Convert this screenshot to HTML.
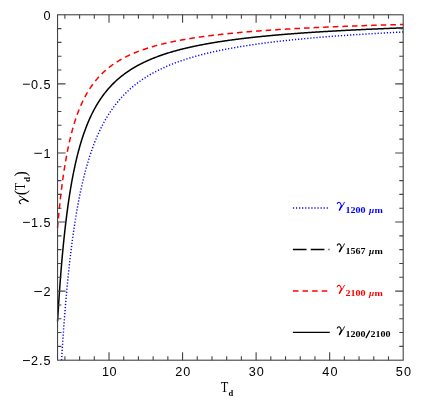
<!DOCTYPE html>
<html><head><meta charset="utf-8"><style>
html,body{margin:0;padding:0;background:#fff;}
svg{display:block;}
text{font-family:"Liberation Sans",sans-serif;}
.ser{font-family:"Liberation Serif",serif;}
.sub{font-family:"Liberation Serif",serif;font-weight:bold;font-size:9.2px;}
.mu{font-style:italic;font-size:8.6px;}
.sl{font-size:12px;font-weight:normal;}
</style></head><body>
<svg width="439" height="406" viewBox="0 0 439 406">
<defs>
<g id="gam" fill="none" stroke="currentColor" stroke-linecap="round" stroke-linejoin="round">
<path d="M0.8,1.9 C1.2,0.9 2.2,0.3 3.1,0.7 C4.2,1.3 4.6,2.9 5.0,4.3" stroke-width="1.05"/>
<path d="M7.9,0.6 C7.0,3.0 4.6,5.8 2.9,8.5" stroke-width="0.95"/>
<path d="M4.9,4.4 L3.0,8.3" stroke-width="1.45"/>
</g>
<g id="gamthin" fill="none" stroke="currentColor" stroke-linecap="round" stroke-linejoin="round">
<path d="M0.8,1.9 C1.2,0.9 2.2,0.3 3.1,0.7 C4.2,1.3 4.6,2.9 5.0,4.3" stroke-width="0.9"/>
<path d="M7.9,0.6 C7.0,3.0 4.6,5.8 2.9,8.5" stroke-width="0.8"/>
<path d="M4.9,4.4 L3.0,8.4" stroke-width="1.2"/>
</g>
</defs>
<rect width="439" height="406" fill="#fff"/>
<g style="filter:opacity(0.999)">
<g fill="none">
<path d="M61.56,360.20 L61.58,359.75 L61.95,353.85 L62.32,348.13 L62.69,342.58 L63.06,337.20 L63.42,331.97 L63.79,326.90 L64.16,321.97 L64.53,317.18 L64.89,312.52 L65.26,307.99 L65.63,303.59 L66.00,299.31 L66.37,295.14 L66.73,291.08 L67.10,287.13 L67.47,283.28 L67.84,279.52 L68.20,275.87 L68.57,272.30 L68.94,268.83 L69.31,265.44 L69.67,262.13 L70.04,258.90 L70.41,255.75 L70.78,252.67 L71.15,249.67 L71.51,246.73 L71.88,243.87 L72.25,241.06 L72.62,238.32 L72.98,235.65 L73.35,233.03 L73.72,230.46 L74.09,227.96 L74.46,225.51 L74.82,223.11 L75.19,220.76 L75.56,218.46 L75.93,216.20 L76.29,214.00 L76.66,211.83 L77.03,209.72 L77.40,207.64 L77.76,205.61 L78.13,203.61 L78.50,201.66 L78.87,199.74 L79.24,197.86 L79.60,196.01 L79.97,194.20 L80.34,192.43 L80.71,190.68 L81.07,188.97 L81.44,187.29 L81.81,185.64 L82.18,184.02 L82.55,182.43 L82.91,180.87 L83.28,179.33 L83.65,177.82 L84.02,176.34 L84.38,174.88 L84.75,173.45 L85.12,172.04 L85.49,170.66 L85.85,169.30 L86.22,167.96 L86.59,166.64 L86.96,165.34 L87.33,164.07 L87.69,162.82 L88.06,161.58 L88.43,160.37 L88.80,159.17 L89.16,157.99 L89.53,156.84 L89.90,155.69 L90.27,154.57 L90.64,153.46 L91.00,152.37 L91.37,151.30 L91.74,150.24 L92.11,149.20 L92.47,148.18 L92.84,147.16 L93.21,146.17 L93.58,145.18 L93.94,144.22 L94.31,143.26 L94.68,142.32 L95.05,141.39 L95.42,140.48 L95.78,139.57 L96.15,138.68 L96.52,137.81 L96.89,136.94 L97.25,136.09 L97.62,135.24 L97.99,134.41 L98.36,133.59 L98.73,132.78 L99.09,131.98 L99.46,131.19 L99.83,130.41 L100.20,129.65 L100.56,128.89 L100.93,128.14 L101.30,127.40 L101.67,126.67 L102.03,125.95 L102.40,125.23 L102.77,124.53 L103.14,123.84 L103.51,123.15 L103.87,122.47 L104.24,121.80 L104.61,121.14 L104.98,120.49 L105.34,119.84 L105.71,119.20 L106.08,118.57 L106.45,117.95 L106.81,117.33 L107.18,116.72 L107.55,116.12 L107.92,115.52 L108.29,114.94 L108.65,114.35 L109.02,113.78 L109.76,112.65 L110.49,111.54 L111.23,110.46 L111.96,109.40 L112.70,108.36 L113.43,107.35 L114.17,106.35 L114.90,105.38 L115.64,104.43 L116.38,103.50 L117.11,102.58 L117.85,101.69 L118.58,100.81 L119.32,99.95 L120.05,99.10 L120.79,98.27 L121.52,97.46 L122.26,96.66 L122.99,95.88 L123.73,95.11 L124.47,94.36 L125.20,93.62 L125.94,92.89 L126.67,92.18 L127.41,91.48 L128.14,90.79 L128.88,90.11 L129.61,89.45 L130.35,88.80 L131.08,88.15 L131.82,87.52 L132.56,86.90 L133.29,86.29 L134.03,85.69 L134.76,85.10 L135.50,84.52 L136.23,83.95 L136.97,83.39 L137.70,82.83 L138.44,82.29 L139.17,81.75 L139.91,81.22 L140.65,80.70 L141.38,80.19 L142.12,79.69 L142.85,79.19 L143.59,78.70 L144.32,78.22 L145.06,77.75 L145.79,77.28 L146.53,76.82 L147.26,76.36 L148.00,75.92 L148.74,75.48 L149.47,75.04 L150.21,74.61 L150.94,74.19 L151.68,73.77 L152.41,73.36 L153.15,72.95 L153.88,72.55 L154.62,72.16 L155.35,71.77 L156.09,71.39 L156.83,71.01 L157.56,70.63 L158.30,70.26 L159.03,69.90 L159.77,69.54 L160.50,69.18 L161.24,68.83 L161.97,68.49 L162.71,68.15 L163.44,67.81 L164.18,67.47 L164.92,67.15 L165.65,66.82 L166.39,66.50 L167.12,66.18 L167.86,65.87 L168.59,65.56 L169.33,65.25 L170.06,64.95 L170.80,64.65 L171.53,64.36 L172.27,64.06 L173.01,63.78 L173.74,63.49 L174.48,63.21 L175.21,62.93 L175.95,62.65 L176.68,62.38 L177.42,62.11 L178.15,61.85 L178.89,61.58 L179.62,61.32 L180.36,61.06 L181.10,60.81 L181.83,60.56 L182.57,60.31 L183.30,60.06 L184.04,59.82 L184.77,59.58 L185.51,59.34 L186.24,59.10 L186.98,58.87 L187.71,58.64 L188.45,58.41 L189.18,58.18 L189.92,57.96 L190.66,57.73 L191.39,57.51 L192.13,57.30 L192.86,57.08 L193.60,56.87 L194.33,56.66 L195.07,56.45 L195.80,56.24 L196.54,56.04 L197.27,55.83 L198.01,55.63 L198.75,55.43 L199.48,55.24 L200.22,55.04 L200.95,54.85 L201.69,54.66 L202.42,54.47 L203.16,54.28 L203.89,54.09 L204.63,53.91 L205.36,53.73 L206.10,53.54 L206.84,53.37 L207.57,53.19 L208.31,53.01 L209.04,52.84 L209.78,52.66 L210.51,52.49 L211.25,52.32 L211.98,52.15 L212.72,51.99 L213.45,51.82 L214.19,51.66 L214.93,51.50 L215.66,51.33 L216.40,51.18 L217.13,51.02 L217.87,50.86 L218.60,50.70 L219.34,50.55 L220.07,50.40 L220.81,50.25 L221.54,50.10 L222.28,49.95 L223.02,49.80 L223.75,49.65 L224.49,49.51 L225.22,49.36 L225.96,49.22 L226.69,49.08 L227.43,48.94 L228.16,48.80 L228.90,48.66 L229.63,48.52 L230.37,48.39 L231.11,48.25 L231.84,48.12 L232.58,47.98 L233.31,47.85 L234.05,47.72 L234.78,47.59 L235.52,47.46 L236.25,47.33 L236.99,47.21 L237.72,47.08 L238.46,46.96 L239.20,46.83 L239.93,46.71 L240.67,46.59 L241.40,46.47 L242.14,46.35 L242.87,46.23 L243.61,46.11 L244.34,45.99 L245.08,45.88 L245.81,45.76 L246.55,45.64 L247.29,45.53 L248.02,45.42 L248.76,45.30 L249.49,45.19 L250.23,45.08 L250.96,44.97 L251.70,44.86 L252.43,44.75 L253.17,44.65 L253.90,44.54 L254.64,44.43 L255.38,44.33 L256.11,44.22 L256.85,44.12 L257.58,44.02 L258.32,43.91 L259.05,43.81 L259.79,43.71 L260.52,43.61 L261.26,43.51 L261.99,43.41 L262.73,43.32 L263.47,43.22 L264.20,43.12 L264.94,43.02 L265.67,42.93 L266.41,42.83 L267.14,42.74 L267.88,42.65 L268.61,42.55 L269.35,42.46 L270.08,42.37 L270.82,42.28 L271.56,42.19 L272.29,42.10 L273.03,42.01 L273.76,41.92 L274.50,41.83 L275.23,41.74 L275.97,41.65 L276.70,41.57 L277.44,41.48 L278.17,41.40 L278.91,41.31 L279.64,41.23 L280.38,41.14 L281.12,41.06 L281.85,40.98 L282.59,40.89 L283.32,40.81 L284.06,40.73 L284.79,40.65 L285.53,40.57 L286.26,40.49 L287.00,40.41 L287.73,40.33 L288.47,40.25 L289.21,40.18 L289.94,40.10 L290.68,40.02 L291.41,39.95 L292.15,39.87 L292.88,39.79 L293.62,39.72 L294.35,39.64 L295.09,39.57 L295.82,39.50 L296.56,39.42 L297.30,39.35 L298.03,39.28 L298.77,39.21 L299.50,39.13 L300.24,39.06 L300.97,38.99 L301.71,38.92 L302.44,38.85 L303.18,38.78 L303.91,38.71 L304.65,38.64 L305.39,38.58 L306.12,38.51 L306.86,38.44 L307.59,38.37 L308.33,38.31 L309.06,38.24 L309.80,38.17 L310.53,38.11 L311.27,38.04 L312.00,37.98 L312.74,37.91 L313.48,37.85 L314.21,37.79 L314.95,37.72 L315.68,37.66 L316.42,37.60 L317.15,37.53 L317.89,37.47 L318.62,37.41 L319.36,37.35 L320.09,37.29 L320.83,37.23 L321.57,37.17 L322.30,37.11 L323.04,37.05 L323.77,36.99 L324.51,36.93 L325.24,36.87 L325.98,36.81 L326.71,36.75 L327.45,36.69 L328.18,36.64 L328.92,36.58 L329.66,36.52 L330.39,36.46 L331.13,36.41 L331.86,36.35 L332.60,36.30 L333.33,36.24 L334.07,36.18 L334.80,36.13 L335.54,36.07 L336.27,36.02 L337.01,35.97 L337.75,35.91 L338.48,35.86 L339.22,35.80 L339.95,35.75 L340.69,35.70 L341.42,35.65 L342.16,35.59 L342.89,35.54 L343.63,35.49 L344.36,35.44 L345.10,35.39 L345.84,35.34 L346.57,35.29 L347.31,35.23 L348.04,35.18 L348.78,35.13 L349.51,35.08 L350.25,35.04 L350.98,34.99 L351.72,34.94 L352.45,34.89 L353.19,34.84 L353.93,34.79 L354.66,34.74 L355.40,34.70 L356.13,34.65 L356.87,34.60 L357.60,34.55 L358.34,34.51 L359.07,34.46 L359.81,34.41 L360.54,34.37 L361.28,34.32 L362.01,34.27 L362.75,34.23 L363.49,34.18 L364.22,34.14 L364.96,34.09 L365.69,34.05 L366.43,34.00 L367.16,33.96 L367.90,33.91 L368.63,33.87 L369.37,33.83 L370.10,33.78 L370.84,33.74 L371.58,33.70 L372.31,33.65 L373.05,33.61 L373.78,33.57 L374.52,33.53 L375.25,33.48 L375.99,33.44 L376.72,33.40 L377.46,33.36 L378.19,33.32 L378.93,33.27 L379.67,33.23 L380.40,33.19 L381.14,33.15 L381.87,33.11 L382.61,33.07 L383.34,33.03 L384.08,32.99 L384.81,32.95 L385.55,32.91 L386.28,32.87 L387.02,32.83 L387.76,32.79 L388.49,32.75 L389.23,32.72 L389.96,32.68 L390.70,32.64 L391.43,32.60 L392.17,32.56 L392.90,32.52 L393.64,32.49 L394.37,32.45 L395.11,32.41 L395.85,32.37 L396.58,32.34 L397.32,32.30 L398.05,32.26 L398.79,32.22 L399.52,32.19 L400.26,32.15 L400.99,32.12 L401.73,32.08 L402.46,32.04 L403.20,32.01" stroke="#0000ff" stroke-width="1.45" stroke-dasharray="1.2 1.87"/>
<path d="M57.54,227.96 L57.91,223.70 L58.28,219.60 L58.64,215.65 L59.01,211.83 L59.38,208.16 L59.75,204.60 L60.11,201.17 L60.48,197.86 L60.85,194.65 L61.22,191.55 L61.58,188.55 L61.95,185.64 L62.32,182.83 L62.69,180.10 L63.06,177.45 L63.42,174.88 L63.79,172.39 L64.16,169.97 L64.53,167.63 L64.89,165.34 L65.26,163.13 L65.63,160.97 L66.00,158.88 L66.37,156.84 L66.73,154.85 L67.10,152.92 L67.47,151.04 L67.84,149.20 L68.20,147.42 L68.57,145.67 L68.94,143.98 L69.31,142.32 L69.67,140.70 L70.04,139.13 L70.41,137.59 L70.78,136.09 L71.15,134.62 L71.51,133.18 L71.88,131.78 L72.25,130.41 L72.62,129.08 L72.98,127.77 L73.35,126.49 L73.72,125.23 L74.09,124.01 L74.46,122.81 L74.82,121.64 L75.19,120.49 L75.56,119.36 L75.93,118.26 L76.29,117.18 L76.66,116.12 L77.03,115.08 L77.40,114.07 L77.76,113.07 L78.13,112.09 L78.50,111.13 L78.87,110.19 L79.24,109.27 L79.60,108.36 L79.97,107.47 L80.34,106.60 L80.71,105.74 L81.07,104.90 L81.44,104.08 L81.81,103.27 L82.18,102.47 L82.55,101.69 L82.91,100.92 L83.28,100.16 L83.65,99.42 L84.02,98.68 L84.38,97.97 L84.75,97.26 L85.12,96.56 L85.49,95.88 L85.85,95.21 L86.22,94.55 L86.59,93.90 L86.96,93.25 L87.33,92.62 L87.69,92.00 L88.06,91.39 L88.43,90.79 L88.80,90.20 L89.16,89.61 L89.53,89.04 L89.90,88.47 L90.27,87.92 L90.64,87.37 L91.00,86.82 L91.37,86.29 L91.74,85.77 L92.11,85.25 L92.47,84.74 L92.84,84.23 L93.21,83.74 L93.58,83.25 L93.94,82.76 L94.31,82.29 L94.68,81.82 L95.05,81.36 L95.42,80.90 L95.78,80.45 L96.15,80.00 L96.52,79.56 L96.89,79.13 L97.25,78.70 L97.62,78.28 L97.99,77.87 L98.36,77.45 L98.73,77.05 L99.09,76.65 L99.46,76.25 L99.83,75.86 L100.20,75.48 L100.56,75.09 L100.93,74.72 L101.30,74.35 L101.67,73.98 L102.03,73.62 L102.40,73.26 L102.77,72.90 L103.14,72.55 L103.51,72.21 L103.87,71.87 L104.24,71.53 L104.61,71.20 L104.98,70.87 L105.34,70.54 L105.71,70.22 L106.08,69.90 L106.45,69.58 L106.81,69.27 L107.18,68.96 L107.55,68.66 L107.92,68.36 L108.29,68.06 L108.65,67.77 L109.02,67.47 L109.76,66.90 L110.49,66.34 L111.23,65.79 L111.96,65.25 L112.70,64.73 L113.43,64.21 L114.17,63.70 L114.90,63.21 L115.64,62.72 L116.38,62.25 L117.11,61.78 L117.85,61.32 L118.58,60.87 L119.32,60.43 L120.05,60.00 L120.79,59.58 L121.52,59.16 L122.26,58.75 L122.99,58.35 L123.73,57.96 L124.47,57.57 L125.20,57.19 L125.94,56.82 L126.67,56.45 L127.41,56.09 L128.14,55.73 L128.88,55.38 L129.61,55.04 L130.35,54.70 L131.08,54.37 L131.82,54.05 L132.56,53.73 L133.29,53.41 L134.03,53.10 L134.76,52.79 L135.50,52.49 L136.23,52.20 L136.97,51.90 L137.70,51.62 L138.44,51.33 L139.17,51.06 L139.91,50.78 L140.65,50.51 L141.38,50.25 L142.12,49.98 L142.85,49.73 L143.59,49.47 L144.32,49.22 L145.06,48.97 L145.79,48.73 L146.53,48.49 L147.26,48.25 L148.00,48.02 L148.74,47.79 L149.47,47.56 L150.21,47.33 L150.94,47.11 L151.68,46.90 L152.41,46.68 L153.15,46.47 L153.88,46.26 L154.62,46.05 L155.35,45.85 L156.09,45.64 L156.83,45.45 L157.56,45.25 L158.30,45.05 L159.03,44.86 L159.77,44.67 L160.50,44.49 L161.24,44.30 L161.97,44.12 L162.71,43.94 L163.44,43.76 L164.18,43.59 L164.92,43.41 L165.65,43.24 L166.39,43.07 L167.12,42.90 L167.86,42.74 L168.59,42.58 L169.33,42.41 L170.06,42.25 L170.80,42.10 L171.53,41.94 L172.27,41.79 L173.01,41.63 L173.74,41.48 L174.48,41.33 L175.21,41.19 L175.95,41.04 L176.68,40.89 L177.42,40.75 L178.15,40.61 L178.89,40.47 L179.62,40.33 L180.36,40.20 L181.10,40.06 L181.83,39.93 L182.57,39.79 L183.30,39.66 L184.04,39.53 L184.77,39.41 L185.51,39.28 L186.24,39.15 L186.98,39.03 L187.71,38.90 L188.45,38.78 L189.18,38.66 L189.92,38.54 L190.66,38.42 L191.39,38.31 L192.13,38.19 L192.86,38.08 L193.60,37.96 L194.33,37.85 L195.07,37.74 L195.80,37.63 L196.54,37.52 L197.27,37.41 L198.01,37.30 L198.75,37.20 L199.48,37.09 L200.22,36.99 L200.95,36.88 L201.69,36.78 L202.42,36.68 L203.16,36.58 L203.89,36.48 L204.63,36.38 L205.36,36.28 L206.10,36.18 L206.84,36.09 L207.57,35.99 L208.31,35.90 L209.04,35.80 L209.78,35.71 L210.51,35.62 L211.25,35.53 L211.98,35.44 L212.72,35.35 L213.45,35.26 L214.19,35.17 L214.93,35.08 L215.66,35.00 L216.40,34.91 L217.13,34.83 L217.87,34.74 L218.60,34.66 L219.34,34.58 L220.07,34.49 L220.81,34.41 L221.54,34.33 L222.28,34.25 L223.02,34.17 L223.75,34.09 L224.49,34.01 L225.22,33.94 L225.96,33.86 L226.69,33.78 L227.43,33.71 L228.16,33.63 L228.90,33.56 L229.63,33.48 L230.37,33.41 L231.11,33.34 L231.84,33.26 L232.58,33.19 L233.31,33.12 L234.05,33.05 L234.78,32.98 L235.52,32.91 L236.25,32.84 L236.99,32.77 L237.72,32.71 L238.46,32.64 L239.20,32.57 L239.93,32.50 L240.67,32.44 L241.40,32.37 L242.14,32.31 L242.87,32.24 L243.61,32.18 L244.34,32.12 L245.08,32.05 L245.81,31.99 L246.55,31.93 L247.29,31.87 L248.02,31.80 L248.76,31.74 L249.49,31.68 L250.23,31.62 L250.96,31.56 L251.70,31.50 L252.43,31.45 L253.17,31.39 L253.90,31.33 L254.64,31.27 L255.38,31.21 L256.11,31.16 L256.85,31.10 L257.58,31.04 L258.32,30.99 L259.05,30.93 L259.79,30.88 L260.52,30.82 L261.26,30.77 L261.99,30.72 L262.73,30.66 L263.47,30.61 L264.20,30.56 L264.94,30.51 L265.67,30.45 L266.41,30.40 L267.14,30.35 L267.88,30.30 L268.61,30.25 L269.35,30.20 L270.08,30.15 L270.82,30.10 L271.56,30.05 L272.29,30.00 L273.03,29.95 L273.76,29.90 L274.50,29.85 L275.23,29.81 L275.97,29.76 L276.70,29.71 L277.44,29.67 L278.17,29.62 L278.91,29.57 L279.64,29.53 L280.38,29.48 L281.12,29.44 L281.85,29.39 L282.59,29.35 L283.32,29.30 L284.06,29.26 L284.79,29.21 L285.53,29.17 L286.26,29.12 L287.00,29.08 L287.73,29.04 L288.47,29.00 L289.21,28.95 L289.94,28.91 L290.68,28.87 L291.41,28.83 L292.15,28.79 L292.88,28.74 L293.62,28.70 L294.35,28.66 L295.09,28.62 L295.82,28.58 L296.56,28.54 L297.30,28.50 L298.03,28.46 L298.77,28.42 L299.50,28.38 L300.24,28.34 L300.97,28.31 L301.71,28.27 L302.44,28.23 L303.18,28.19 L303.91,28.15 L304.65,28.12 L305.39,28.08 L306.12,28.04 L306.86,28.00 L307.59,27.97 L308.33,27.93 L309.06,27.89 L309.80,27.86 L310.53,27.82 L311.27,27.79 L312.00,27.75 L312.74,27.71 L313.48,27.68 L314.21,27.64 L314.95,27.61 L315.68,27.58 L316.42,27.54 L317.15,27.51 L317.89,27.47 L318.62,27.44 L319.36,27.40 L320.09,27.37 L320.83,27.34 L321.57,27.30 L322.30,27.27 L323.04,27.24 L323.77,27.21 L324.51,27.17 L325.24,27.14 L325.98,27.11 L326.71,27.08 L327.45,27.05 L328.18,27.01 L328.92,26.98 L329.66,26.95 L330.39,26.92 L331.13,26.89 L331.86,26.86 L332.60,26.83 L333.33,26.80 L334.07,26.77 L334.80,26.74 L335.54,26.71 L336.27,26.68 L337.01,26.65 L337.75,26.62 L338.48,26.59 L339.22,26.56 L339.95,26.53 L340.69,26.50 L341.42,26.47 L342.16,26.44 L342.89,26.41 L343.63,26.38 L344.36,26.36 L345.10,26.33 L345.84,26.30 L346.57,26.27 L347.31,26.24 L348.04,26.22 L348.78,26.19 L349.51,26.16 L350.25,26.13 L350.98,26.11 L351.72,26.08 L352.45,26.05 L353.19,26.03 L353.93,26.00 L354.66,25.97 L355.40,25.95 L356.13,25.92 L356.87,25.89 L357.60,25.87 L358.34,25.84 L359.07,25.82 L359.81,25.79 L360.54,25.77 L361.28,25.74 L362.01,25.71 L362.75,25.69 L363.49,25.66 L364.22,25.64 L364.96,25.61 L365.69,25.59 L366.43,25.56 L367.16,25.54 L367.90,25.52 L368.63,25.49 L369.37,25.47 L370.10,25.44 L370.84,25.42 L371.58,25.40 L372.31,25.37 L373.05,25.35 L373.78,25.32 L374.52,25.30 L375.25,25.28 L375.99,25.25 L376.72,25.23 L377.46,25.21 L378.19,25.19 L378.93,25.16 L379.67,25.14 L380.40,25.12 L381.14,25.10 L381.87,25.07 L382.61,25.05 L383.34,25.03 L384.08,25.01 L384.81,24.98 L385.55,24.96 L386.28,24.94 L387.02,24.92 L387.76,24.90 L388.49,24.88 L389.23,24.85 L389.96,24.83 L390.70,24.81 L391.43,24.79 L392.17,24.77 L392.90,24.75 L393.64,24.73 L394.37,24.71 L395.11,24.69 L395.85,24.66 L396.58,24.64 L397.32,24.62 L398.05,24.60 L398.79,24.58 L399.52,24.56 L400.26,24.54 L400.99,24.52 L401.73,24.50 L402.46,24.48 L403.20,24.46" stroke="#ff0000" stroke-width="1.5" stroke-dasharray="5.6 4"/>
<path d="M57.54,321.46 L57.91,315.29 L58.28,309.33 L58.64,303.59 L59.01,298.05 L59.38,292.70 L59.75,287.53 L60.11,282.54 L60.48,277.71 L60.85,273.04 L61.22,268.51 L61.58,264.13 L61.95,259.89 L62.32,255.78 L62.69,251.80 L63.06,247.93 L63.42,244.18 L63.79,240.55 L64.16,237.01 L64.53,233.58 L64.89,230.24 L65.26,227.00 L65.63,223.85 L66.00,220.79 L66.37,217.80 L66.73,214.90 L67.10,212.07 L67.47,209.32 L67.84,206.64 L68.20,204.03 L68.57,201.48 L68.94,199.00 L69.31,196.58 L69.67,194.22 L70.04,191.91 L70.41,189.66 L70.78,187.47 L71.15,185.32 L71.51,183.23 L71.88,181.18 L72.25,179.18 L72.62,177.22 L72.98,175.31 L73.35,173.44 L73.72,171.62 L74.09,169.83 L74.46,168.08 L74.82,166.37 L75.19,164.69 L75.56,163.05 L75.93,161.44 L76.29,159.86 L76.66,158.32 L77.03,156.81 L77.40,155.33 L77.76,153.88 L78.13,152.45 L78.50,151.06 L78.87,149.69 L79.24,148.34 L79.60,147.03 L79.97,145.73 L80.34,144.46 L80.71,143.22 L81.07,142.00 L81.44,140.80 L81.81,139.62 L82.18,138.46 L82.55,137.32 L82.91,136.20 L83.28,135.11 L83.65,134.03 L84.02,132.97 L84.38,131.92 L84.75,130.90 L85.12,129.89 L85.49,128.90 L85.85,127.93 L86.22,126.97 L86.59,126.03 L86.96,125.10 L87.33,124.19 L87.69,123.29 L88.06,122.40 L88.43,121.53 L88.80,120.68 L89.16,119.83 L89.53,119.00 L89.90,118.18 L90.27,117.38 L90.64,116.59 L91.00,115.80 L91.37,115.03 L91.74,114.28 L92.11,113.53 L92.47,112.79 L92.84,112.07 L93.21,111.35 L93.58,110.64 L93.94,109.95 L94.31,109.26 L94.68,108.59 L95.05,107.92 L95.42,107.26 L95.78,106.61 L96.15,105.97 L96.52,105.34 L96.89,104.72 L97.25,104.10 L97.62,103.50 L97.99,102.90 L98.36,102.31 L98.73,101.73 L99.09,101.15 L99.46,100.58 L99.83,100.02 L100.20,99.47 L100.56,98.92 L100.93,98.38 L101.30,97.85 L101.67,97.32 L102.03,96.80 L102.40,96.29 L102.77,95.78 L103.14,95.28 L103.51,94.79 L103.87,94.30 L104.24,93.82 L104.61,93.34 L104.98,92.87 L105.34,92.40 L105.71,91.94 L106.08,91.48 L106.45,91.03 L106.81,90.59 L107.18,90.15 L107.55,89.71 L107.92,89.28 L108.29,88.86 L108.65,88.44 L109.02,88.02 L109.76,87.20 L110.49,86.40 L111.23,85.62 L111.96,84.85 L112.70,84.10 L113.43,83.36 L114.17,82.65 L114.90,81.94 L115.64,81.25 L116.38,80.57 L117.11,79.91 L117.85,79.26 L118.58,78.62 L119.32,78.00 L120.05,77.38 L120.79,76.78 L121.52,76.19 L122.26,75.61 L122.99,75.04 L123.73,74.48 L124.47,73.93 L125.20,73.40 L125.94,72.87 L126.67,72.35 L127.41,71.84 L128.14,71.34 L128.88,70.84 L129.61,70.36 L130.35,69.88 L131.08,69.41 L131.82,68.95 L132.56,68.50 L133.29,68.06 L134.03,67.62 L134.76,67.19 L135.50,66.76 L136.23,66.34 L136.97,65.93 L137.70,65.53 L138.44,65.13 L139.17,64.74 L139.91,64.35 L140.65,63.97 L141.38,63.60 L142.12,63.23 L142.85,62.87 L143.59,62.51 L144.32,62.16 L145.06,61.81 L145.79,61.47 L146.53,61.13 L147.26,60.79 L148.00,60.47 L148.74,60.14 L149.47,59.82 L150.21,59.51 L150.94,59.20 L151.68,58.89 L152.41,58.59 L153.15,58.29 L153.88,58.00 L154.62,57.71 L155.35,57.42 L156.09,57.14 L156.83,56.86 L157.56,56.59 L158.30,56.32 L159.03,56.05 L159.77,55.78 L160.50,55.52 L161.24,55.26 L161.97,55.01 L162.71,54.76 L163.44,54.51 L164.18,54.26 L164.92,54.02 L165.65,53.78 L166.39,53.54 L167.12,53.31 L167.86,53.08 L168.59,52.85 L169.33,52.63 L170.06,52.40 L170.80,52.18 L171.53,51.97 L172.27,51.75 L173.01,51.54 L173.74,51.33 L174.48,51.12 L175.21,50.91 L175.95,50.71 L176.68,50.51 L177.42,50.31 L178.15,50.11 L178.89,49.92 L179.62,49.73 L180.36,49.54 L181.10,49.35 L181.83,49.16 L182.57,48.98 L183.30,48.79 L184.04,48.61 L184.77,48.44 L185.51,48.26 L186.24,48.08 L186.98,47.91 L187.71,47.74 L188.45,47.57 L189.18,47.40 L189.92,47.24 L190.66,47.07 L191.39,46.91 L192.13,46.75 L192.86,46.59 L193.60,46.43 L194.33,46.28 L195.07,46.12 L195.80,45.97 L196.54,45.82 L197.27,45.66 L198.01,45.52 L198.75,45.37 L199.48,45.22 L200.22,45.08 L200.95,44.93 L201.69,44.79 L202.42,44.65 L203.16,44.51 L203.89,44.37 L204.63,44.24 L205.36,44.10 L206.10,43.97 L206.84,43.83 L207.57,43.70 L208.31,43.57 L209.04,43.44 L209.78,43.31 L210.51,43.19 L211.25,43.06 L211.98,42.94 L212.72,42.81 L213.45,42.69 L214.19,42.57 L214.93,42.45 L215.66,42.33 L216.40,42.21 L217.13,42.09 L217.87,41.97 L218.60,41.86 L219.34,41.74 L220.07,41.63 L220.81,41.52 L221.54,41.40 L222.28,41.29 L223.02,41.18 L223.75,41.08 L224.49,40.97 L225.22,40.86 L225.96,40.75 L226.69,40.65 L227.43,40.54 L228.16,40.44 L228.90,40.34 L229.63,40.23 L230.37,40.13 L231.11,40.03 L231.84,39.93 L232.58,39.83 L233.31,39.73 L234.05,39.64 L234.78,39.54 L235.52,39.44 L236.25,39.35 L236.99,39.25 L237.72,39.16 L238.46,39.07 L239.20,38.98 L239.93,38.88 L240.67,38.79 L241.40,38.70 L242.14,38.61 L242.87,38.52 L243.61,38.44 L244.34,38.35 L245.08,38.26 L245.81,38.18 L246.55,38.09 L247.29,38.00 L248.02,37.92 L248.76,37.84 L249.49,37.75 L250.23,37.67 L250.96,37.59 L251.70,37.51 L252.43,37.43 L253.17,37.35 L253.90,37.27 L254.64,37.19 L255.38,37.11 L256.11,37.03 L256.85,36.95 L257.58,36.87 L258.32,36.80 L259.05,36.72 L259.79,36.65 L260.52,36.57 L261.26,36.50 L261.99,36.42 L262.73,36.35 L263.47,36.28 L264.20,36.20 L264.94,36.13 L265.67,36.06 L266.41,35.99 L267.14,35.92 L267.88,35.85 L268.61,35.78 L269.35,35.71 L270.08,35.64 L270.82,35.57 L271.56,35.51 L272.29,35.44 L273.03,35.37 L273.76,35.31 L274.50,35.24 L275.23,35.17 L275.97,35.11 L276.70,35.04 L277.44,34.98 L278.17,34.92 L278.91,34.85 L279.64,34.79 L280.38,34.73 L281.12,34.66 L281.85,34.60 L282.59,34.54 L283.32,34.48 L284.06,34.42 L284.79,34.36 L285.53,34.30 L286.26,34.24 L287.00,34.18 L287.73,34.12 L288.47,34.06 L289.21,34.00 L289.94,33.94 L290.68,33.89 L291.41,33.83 L292.15,33.77 L292.88,33.72 L293.62,33.66 L294.35,33.60 L295.09,33.55 L295.82,33.49 L296.56,33.44 L297.30,33.38 L298.03,33.33 L298.77,33.28 L299.50,33.22 L300.24,33.17 L300.97,33.12 L301.71,33.06 L302.44,33.01 L303.18,32.96 L303.91,32.91 L304.65,32.85 L305.39,32.80 L306.12,32.75 L306.86,32.70 L307.59,32.65 L308.33,32.60 L309.06,32.55 L309.80,32.50 L310.53,32.45 L311.27,32.40 L312.00,32.35 L312.74,32.31 L313.48,32.26 L314.21,32.21 L314.95,32.16 L315.68,32.11 L316.42,32.07 L317.15,32.02 L317.89,31.97 L318.62,31.93 L319.36,31.88 L320.09,31.84 L320.83,31.79 L321.57,31.74 L322.30,31.70 L323.04,31.65 L323.77,31.61 L324.51,31.57 L325.24,31.52 L325.98,31.48 L326.71,31.43 L327.45,31.39 L328.18,31.35 L328.92,31.30 L329.66,31.26 L330.39,31.22 L331.13,31.18 L331.86,31.13 L332.60,31.09 L333.33,31.05 L334.07,31.01 L334.80,30.97 L335.54,30.93 L336.27,30.88 L337.01,30.84 L337.75,30.80 L338.48,30.76 L339.22,30.72 L339.95,30.68 L340.69,30.64 L341.42,30.60 L342.16,30.56 L342.89,30.53 L343.63,30.49 L344.36,30.45 L345.10,30.41 L345.84,30.37 L346.57,30.33 L347.31,30.29 L348.04,30.26 L348.78,30.22 L349.51,30.18 L350.25,30.14 L350.98,30.11 L351.72,30.07 L352.45,30.03 L353.19,30.00 L353.93,29.96 L354.66,29.92 L355.40,29.89 L356.13,29.85 L356.87,29.82 L357.60,29.78 L358.34,29.75 L359.07,29.71 L359.81,29.68 L360.54,29.64 L361.28,29.61 L362.01,29.57 L362.75,29.54 L363.49,29.50 L364.22,29.47 L364.96,29.44 L365.69,29.40 L366.43,29.37 L367.16,29.33 L367.90,29.30 L368.63,29.27 L369.37,29.24 L370.10,29.20 L370.84,29.17 L371.58,29.14 L372.31,29.10 L373.05,29.07 L373.78,29.04 L374.52,29.01 L375.25,28.98 L375.99,28.94 L376.72,28.91 L377.46,28.88 L378.19,28.85 L378.93,28.82 L379.67,28.79 L380.40,28.76 L381.14,28.73 L381.87,28.70 L382.61,28.67 L383.34,28.64 L384.08,28.61 L384.81,28.58 L385.55,28.55 L386.28,28.52 L387.02,28.49 L387.76,28.46 L388.49,28.43 L389.23,28.40 L389.96,28.37 L390.70,28.34 L391.43,28.31 L392.17,28.28 L392.90,28.25 L393.64,28.23 L394.37,28.20 L395.11,28.17 L395.85,28.14 L396.58,28.11 L397.32,28.08 L398.05,28.06 L398.79,28.03 L399.52,28.00 L400.26,27.97 L400.99,27.95 L401.73,27.92 L402.46,27.89 L403.20,27.86" stroke="#000" stroke-width="1.5"/>
</g>
<g fill="none" stroke="#444" stroke-width="1.1">
<rect x="57.54" y="14.78" width="345.65999999999997" height="345.42"/>
<path d="M64.89,360.20v-3.9M64.89,14.78v3.9M79.60,360.20v-3.9M79.60,14.78v3.9M94.31,360.20v-3.9M94.31,14.78v3.9M109.02,360.20v-8.0M109.02,14.78v8.0M123.73,360.20v-3.9M123.73,14.78v3.9M138.44,360.20v-3.9M138.44,14.78v3.9M153.15,360.20v-3.9M153.15,14.78v3.9M167.86,360.20v-3.9M167.86,14.78v3.9M182.57,360.20v-8.0M182.57,14.78v8.0M197.27,360.20v-3.9M197.27,14.78v3.9M211.98,360.20v-3.9M211.98,14.78v3.9M226.69,360.20v-3.9M226.69,14.78v3.9M241.40,360.20v-3.9M241.40,14.78v3.9M256.11,360.20v-8.0M256.11,14.78v8.0M270.82,360.20v-3.9M270.82,14.78v3.9M285.53,360.20v-3.9M285.53,14.78v3.9M300.24,360.20v-3.9M300.24,14.78v3.9M314.95,360.20v-3.9M314.95,14.78v3.9M329.66,360.20v-8.0M329.66,14.78v8.0M344.36,360.20v-3.9M344.36,14.78v3.9M359.07,360.20v-3.9M359.07,14.78v3.9M373.78,360.20v-3.9M373.78,14.78v3.9M388.49,360.20v-3.9M388.49,14.78v3.9M57.54,28.60h3.9M403.20,28.60h-3.9M57.54,42.41h3.9M403.20,42.41h-3.9M57.54,56.23h3.9M403.20,56.23h-3.9M57.54,70.05h3.9M403.20,70.05h-3.9M57.54,83.86h8.0M403.20,83.86h-8.0M57.54,97.68h3.9M403.20,97.68h-3.9M57.54,111.50h3.9M403.20,111.50h-3.9M57.54,125.31h3.9M403.20,125.31h-3.9M57.54,139.13h3.9M403.20,139.13h-3.9M57.54,152.95h8.0M403.20,152.95h-8.0M57.54,166.76h3.9M403.20,166.76h-3.9M57.54,180.58h3.9M403.20,180.58h-3.9M57.54,194.40h3.9M403.20,194.40h-3.9M57.54,208.22h3.9M403.20,208.22h-3.9M57.54,222.03h8.0M403.20,222.03h-8.0M57.54,235.85h3.9M403.20,235.85h-3.9M57.54,249.67h3.9M403.20,249.67h-3.9M57.54,263.48h3.9M403.20,263.48h-3.9M57.54,277.30h3.9M403.20,277.30h-3.9M57.54,291.12h8.0M403.20,291.12h-8.0M57.54,304.93h3.9M403.20,304.93h-3.9M57.54,318.75h3.9M403.20,318.75h-3.9M57.54,332.57h3.9M403.20,332.57h-3.9M57.54,346.38h3.9M403.20,346.38h-3.9"/>
</g>
<g font-size="12.3px" fill="#000">
<text transform="translate(109.42,375.9) scale(1.03,1)" text-anchor="middle" letter-spacing="0.4">10</text>
<text transform="translate(183.32,375.9) scale(1.03,1)" text-anchor="middle" letter-spacing="1.1">20</text>
<text transform="translate(256.86,375.9) scale(1.03,1)" text-anchor="middle" letter-spacing="1.1">30</text>
<text transform="translate(330.41,375.9) scale(1.03,1)" text-anchor="middle" letter-spacing="1.1">40</text>
<text transform="translate(403.95,375.9) scale(1.03,1)" text-anchor="middle" letter-spacing="1.1">50</text>
<text transform="translate(51.43,19.58) scale(1.03,1)" text-anchor="end" letter-spacing="0.9">0</text>
<text transform="translate(51.43,89.01) scale(1.03,1)" text-anchor="end" letter-spacing="0.9">0.5</text>
<text transform="translate(51.43,158.10) scale(1.03,1)" text-anchor="end" letter-spacing="0.9">1</text>
<text transform="translate(51.43,227.18) scale(1.03,1)" text-anchor="end" letter-spacing="0.9">1.5</text>
<text transform="translate(51.43,296.27) scale(1.03,1)" text-anchor="end" letter-spacing="0.9">2</text>
<text transform="translate(51.43,365.35) scale(1.03,1)" text-anchor="end" letter-spacing="0.9">2.5</text>
<path d="M23.0,84.21H29.9M34.3,153.30H41.9M23.0,222.38H29.9M34.3,291.47H41.9M23.0,360.55H29.9" stroke="#000" stroke-width="0.95" fill="none"/>
</g>
<!-- legend -->
<g fill="none">
<path d="M365.9,338.1L369.8,330.6" stroke="#000" stroke-width="1.2"/>
<path d="M292.9,207.9H329.4" stroke="#0000ff" stroke-width="1.45" stroke-dasharray="1.2 1.87"/>
<path d="M292.9,249.5H329.4" stroke="#000" stroke-width="1.3" stroke-dasharray="13.7 4.1"/>
<path d="M292.9,291.0H329.4" stroke="#ff0000" stroke-width="1.4" stroke-dasharray="5.6 4"/>
<path d="M292.9,332.45H329.8" stroke="#000" stroke-width="1.3"/>
</g>
<g>
<use href="#gam" x="336.5" y="201.70" color="#0000ff"/>
<text transform="translate(345.6,212.80) scale(1.09,1)" fill="#0000ff" class="sub">1200 <tspan class="mu" x="21.4">μ</tspan><tspan x="26.5">m</tspan></text>
<use href="#gam" x="336.5" y="243.30" color="#000"/>
<text transform="translate(345.6,254.40) scale(1.09,1)" fill="#000" class="sub">1567 <tspan class="mu" x="21.4">μ</tspan><tspan x="26.5">m</tspan></text>
<use href="#gam" x="336.5" y="284.80" color="#ff0000"/>
<text transform="translate(345.6,295.90) scale(1.09,1)" fill="#ff0000" class="sub">2100 <tspan class="mu" x="21.4">μ</tspan><tspan x="26.5">m</tspan></text>
<use href="#gam" x="336.5" y="326.25" color="#000"/>
<text transform="translate(345.6,337.35) scale(1.09,1)" fill="#000" class="sub">1200<tspan x="22.75">2100</tspan></text>
</g>
<!-- axis labels -->
<g>
<text class="ser" transform="translate(224.6,392.0) scale(0.88,1)" text-anchor="middle" font-size="14px">T</text>
<text class="sub" x="228.5" y="395.6" style="font-size:8.5px">d</text>
<g transform="translate(25.1,203.8) rotate(-90)">
<use href="#gamthin" transform="translate(-0.9,-6.5) scale(1.12)" color="#000"/>
<text class="ser" x="8.5" y="0.6" font-size="16px">(</text>
<text class="ser" transform="translate(17.2,0) scale(0.88,1)" text-anchor="middle" font-size="14px">T</text>
<text class="sub" x="21.8" y="5.0" style="font-size:9.2px">d</text>
<text class="ser" x="27.2" y="0.6" font-size="16px">)</text>
</g>
</g>
</g>
</svg>
</body></html>
